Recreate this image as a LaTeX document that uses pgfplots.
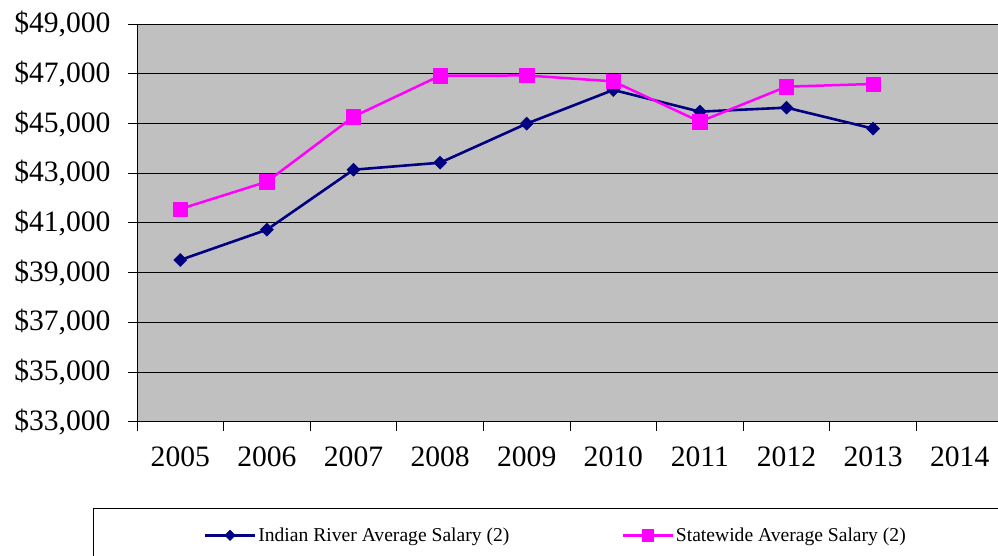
\documentclass[border=0pt]{standalone}
\usepackage{fontspec}
\setmainfont{Liberation Serif}
\usepackage{pgfplots}
\pgfplotsset{compat=1.18}

\definecolor{plotbg}{HTML}{C0C0C0}
\definecolor{irnavy}{HTML}{000080}
\definecolor{swpink}{HTML}{FF00FF}

\begin{document}
\begin{tikzpicture}
\useasboundingbox (0,0) rectangle (998pt,556pt);
\clip (0,0) rectangle (998pt,556pt);
\begin{axis}[
  at={(137pt,134.3pt)}, anchor=south west,
  scale only axis,
  width=866pt, height=397.4pt,
  xmin=-0.5, xmax=9.5,
  ymin=33000, ymax=49000,
  scaled y ticks=false,
  axis background/.style={fill=plotbg},
  axis line style={black, line width=1pt},
  xtick={-0.5,0.5,...,9.5},
  x tick label as interval,
  xticklabels={2005,2006,2007,2008,2009,2010,2011,2012,2013,2014},
  ytick={33000,35000,...,49000},
  yticklabels={{\$33,000},{\$35,000},{\$37,000},{\$39,000},{\$41,000},{\$43,000},{\$45,000},{\$47,000},{\$49,000}},
  xtick pos=bottom, ytick pos=left,
  tick align=outside,
  major tick length=9pt,
  tick style={black, line width=1pt},
  ticklabel style={font=\fontsize{29.6}{35}\selectfont},
  xticklabel style={yshift=-13pt},
  yticklabel style={xshift=-14pt},
  ymajorgrids,
  major grid style={black, line width=1pt},
  legend columns=2,
  legend style={
    at={(rel axis cs:-0.0505,-0.2179)}, anchor=north west,
    draw=black, line width=1pt,
    inner xsep=110pt, inner ysep=17pt,
    font=\fontsize{19.6}{23}\selectfont,
    /tikz/every even column/.append style={column sep=110pt},
  },
  legend image code/.code={
    \draw[mark repeat=2, mark phase=2, #1, every mark/.append style={scale=0.8}]
      plot coordinates {(0pt,0pt) (25pt,0pt) (50pt,0pt)};
  },
]
\addplot[irnavy, line width=2.6pt, mark=square*, mark size=4.6pt,
  mark options={rotate=45, solid, line width=0.5pt, fill=irnavy}]
  coordinates {(0,39511) (1,40730) (2,43145) (3,43427) (4,45000)
               (5,46356) (6,45483) (7,45644) (8,44799)};
\addlegendentry{Indian River Average Salary (2)}
\addplot[swpink, line width=2.5pt, mark=square*, mark size=7.2pt,
  mark options={solid, line width=0.5pt, fill=swpink}]
  coordinates {(0,41563) (1,42662) (2,45282) (3,46932) (4,46940)
               (5,46702) (6,45080) (7,46489) (8,46597)};
\addlegendentry{Statewide Average Salary (2)}
\end{axis}
\end{tikzpicture}
\end{document}
